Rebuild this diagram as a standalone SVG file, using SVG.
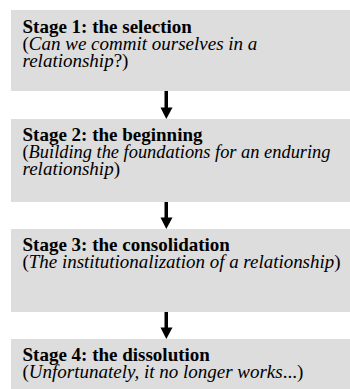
<svg xmlns="http://www.w3.org/2000/svg" width="350" height="389" viewBox="0 0 350 389">
<style>
.box{fill:#dddddd;}
text{font-family:"Liberation Serif","Times New Roman",serif;font-size:19px;fill:#000;}
.b{font-weight:bold;}
.i{font-style:italic;}
.arr{fill:#000;}
</style>
<rect width="350" height="389" fill="#ffffff"/>
<g id="stage1">
<rect class="box" x="11" y="10" width="339" height="81"/>
<text class="b" x="22.5" y="33">Stage 1: the selection</text>
<text x="22.5" y="50">(<tspan class="i">Can we commit ourselves in a</tspan></text>
<text x="22.5" y="67"><tspan class="i">relationship</tspan>?)</text>
</g>
<g id="stage2">
<rect class="box" x="11" y="119" width="339" height="83"/>
<text class="b" x="22.5" y="141">Stage 2: the beginning</text>
<text x="22.5" y="158" textLength="308" lengthAdjust="spacingAndGlyphs">(<tspan class="i">Building the foundations for an enduring</tspan></text>
<text x="22.5" y="175"><tspan class="i">relationship</tspan>)</text>
</g>
<g id="stage3">
<rect class="box" x="11" y="229" width="339" height="83"/>
<text class="b" x="22.5" y="251">Stage 3: the consolidation</text>
<text x="22.5" y="268" textLength="318" lengthAdjust="spacingAndGlyphs">(<tspan class="i">The institutionalization of a relationship</tspan>)</text>
</g>
<g id="stage4">
<rect class="box" x="11" y="339" width="339" height="50"/>
<text class="b" x="22.5" y="361">Stage 4: the dissolution</text>
<text x="22.5" y="378">(<tspan class="i">Unfortunately, it no longer works</tspan>...)</text>
</g>
<g id="connectors">
<rect class="arr" x="164.5" y="91" width="3.5" height="17"/>
<polygon class="arr" points="160.5,107.5 172.5,107.5 166.3,119"/>
<rect class="arr" x="164.5" y="202" width="3.5" height="16"/>
<polygon class="arr" points="160.5,217.5 172.5,217.5 166.3,229"/>
<rect class="arr" x="164.5" y="312" width="3.5" height="16"/>
<polygon class="arr" points="160.5,327.5 172.5,327.5 166.3,339"/>
</g>
</svg>
